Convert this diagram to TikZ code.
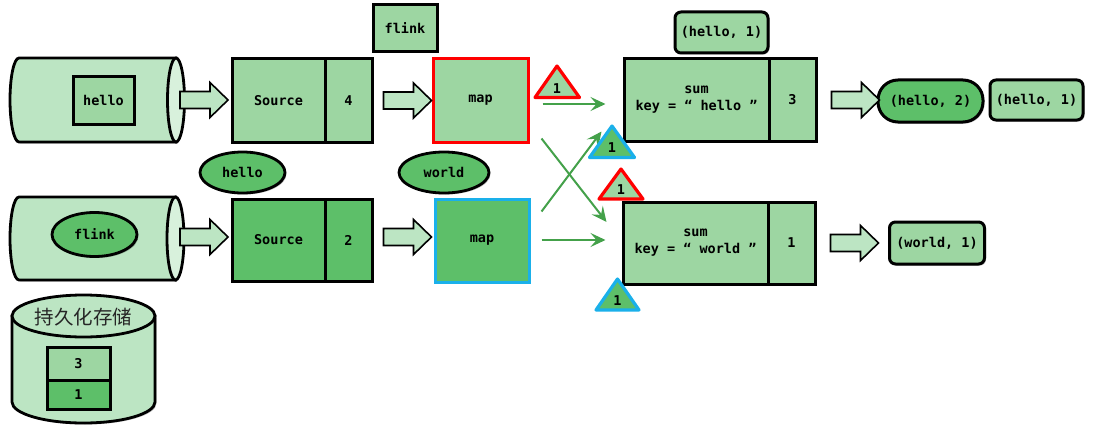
\documentclass[tikz,border=0pt]{standalone}
\usepackage{fontspec}
\setmonofont{DejaVu Sans Mono}
\newfontfamily\cjkfont{Noto Sans CJK SC}
\usetikzlibrary{shapes.geometric,shadows,calc,arrows.meta}
\definecolor{cylfill}{HTML}{BCE5C3}
\definecolor{cylface}{HTML}{D8F1DC}
\definecolor{midg}{HTML}{9DD6A2}
\definecolor{darkg}{HTML}{5DBF69}
\definecolor{bluebd}{HTML}{1AB0EA}
\definecolor{arrg}{HTML}{44A14A}
\definecolor{cjkgray}{HTML}{262626}
\tikzset{
  shd/.style={drop shadow={shadow xshift=1.5pt,shadow yshift=-1.5pt,opacity=0.25,fill=black}},
  txt/.style={font=\ttfamily\bfseries\fontsize{13.5}{15}\selectfont, text=black},
  box/.style={txt, rectangle, draw=black, line width=3pt, fill=midg, inner sep=0pt, shd},
  rbox/.style={box, rounded corners=6pt},
  ebox/.style={txt, ellipse, draw=black, line width=2.8pt, fill=darkg, inner sep=0pt, shd},
  barrow/.style={draw=black, line width=1.6pt, fill=cylfill, line join=miter},
  cylbody/.style={draw=black, line width=2.8pt, fill=cylfill, shd},
  tri/.style={line width=3.2pt, line join=round},
  garrow/.style={draw=arrg, line width=2pt, -{Stealth[length=15pt,width=14pt,inset=6pt]}},
}
\newcommand\blockarr[1]{\draw[barrow] (#1) ++(0,-8.5) -- ++(30,0) -- ++(0,-9) -- ++(18,17.5) -- ++(-18,17.5) -- ++(0,-9) -- ++(-30,0) -- cycle;}
\begin{document}
\begin{tikzpicture}[x=1pt,y=-1pt]
\useasboundingbox[fill=white] (0,0) rectangle (1096,428);

% ---------- top input cylinder
\path[cylbody] (176,58) -- (19,58) arc[start angle=270,end angle=90,x radius=9,y radius=42] -- (176,142) -- cycle;
\draw[line width=2.8pt, fill=cylface] (176,100) ellipse [x radius=8.5,y radius=42];
\coordinate (cyl1) at (184,100);
\node[box, minimum width=61pt, minimum height=47pt] (in1) at (103.5,100.5) {hello};

% ---------- bottom input cylinder
\path[cylbody] (175.5,197) -- (19,197) arc[start angle=270,end angle=90,x radius=9,y radius=41.5] -- (175.5,280) -- cycle;
\draw[line width=2.8pt, fill=cylface] (175.5,238.5) ellipse [x radius=8.5,y radius=41.5];
\coordinate (cyl2) at (184,237);
\node[ebox, minimum width=85pt, minimum height=44pt] (in2) at (94.5,234.5) {flink};

% ---------- storage cylinder
\path[cylbody] (12,316) -- (12,402) arc[start angle=180,end angle=0,x radius=71.5,y radius=21] -- (155,316) -- cycle;
\draw[line width=2.8pt, fill=cylfill] (83.5,316) ellipse [x radius=71.5,y radius=21];
\node[font=\cjkfont\fontsize{19.5}{21}\selectfont, text=cjkgray] (store) at (83.5,317) {持久化存储};
\node[box, minimum width=63pt, minimum height=33pt, fill=midg] (st3) at (78.5,363.5) {3};
\node[box, minimum width=63pt, minimum height=29pt, fill=darkg] (st1) at (78.5,394.5) {1};

% ---------- sources
\node[box, minimum width=93pt, minimum height=83pt] (src1) at (278.5,100.5) {Source};
\node[box, minimum width=47pt, minimum height=83pt] (src1n) at (348.5,100.5) {4};
\node[box, minimum width=93pt, minimum height=82pt, fill=darkg] (src2) at (278.5,240) {Source};
\node[box, minimum width=47pt, minimum height=82pt, fill=darkg] (src2n) at (348.5,240) {2};

% ---------- maps
\node[box, draw=red, minimum width=95pt, minimum height=83pt] (map1) at (480.5,100.5) {map};
\node[box, draw=bluebd, fill=darkg, minimum width=94pt, minimum height=83pt] (map2) at (482,240.5) {map};

% ---------- labels above
\node[box, minimum width=64pt, minimum height=47pt] (flk) at (405,28.5) {flink};
\node[ebox, minimum width=85pt, minimum height=41pt] (ehello) at (242.5,172.5) {hello};
\node[ebox, minimum width=90pt, minimum height=41pt] (eworld) at (444,172.5) {world};

% ---------- sums
\node[box, minimum width=145pt, minimum height=82pt, align=center] (sum1) at (696.5,100) {sum\\[2pt]key = “ hello ”};
\node[box, minimum width=47pt, minimum height=82pt] (sum1n) at (792.5,100) {3};
\node[box, minimum width=145pt, minimum height=82pt, align=center] (sum2) at (695.5,243) {sum\\[2pt]key = “ world ”};
\node[box, minimum width=47pt, minimum height=82pt] (sum2n) at (791.5,243) {1};
\node[rbox, minimum width=93pt, minimum height=41pt] (st) at (721.5,32.5) {(hello, 1)};

% ---------- outputs
\node[box, fill=darkg, rounded corners=20pt, minimum width=105pt, minimum height=42pt] (out1) at (930.5,101) {(hello, 2)};
\node[rbox, minimum width=93pt, minimum height=40pt] (out1b) at (1036.5,100) {(hello, 1)};
\node[rbox, minimum width=95pt, minimum height=42pt] (out2) at (937,243) {(world, 1)};

% ---------- block arrows
\blockarr{$(cyl1)+(-4,0)$}
\blockarr{$(src1n.east)+(10,0)$}
\blockarr{$(cyl2)+(-4,0)$}
\blockarr{$(src2n.east)+(10,-3)$}
\blockarr{$(sum1n.east)+(14,0)$}
\blockarr{$(sum2n.east)+(14,0)$}

% ---------- green connectors
\draw[garrow] ($(map1.east)+(13,3.5)$) -- ($(sum1.west)+(-17,4)$);
\draw[garrow] ($(map1.south east)+(12,-5)$) -- ($(sum2.west)+(-15,-21)$);
\draw[garrow] ($(map2.north east)+(11,14)$) -- ($(sum1.south west)+(-21,-11)$);
\draw[garrow] ($(map2.east)+(11,-0.5)$) -- ($(sum2.west)+(-16,-3)$);

% ---------- barrier triangles
\draw[tri, draw=red, fill=midg] (557,66) -- (579.5,97.5) -- (535,97.5) -- cycle;
\node[txt] (b1) at (557,89) {1};
\draw[tri, draw=bluebd, fill=darkg] (612,126) -- (634.5,157.5) -- (589.5,157.5) -- cycle;
\node[txt] (b2) at (612,148) {1};
\draw[tri, draw=red, fill=midg] (621,169) -- (643,199) -- (599,199) -- cycle;
\node[txt] (b3) at (621,190) {1};
\draw[tri, draw=bluebd, fill=darkg] (617.5,279) -- (639,310) -- (596,310) -- cycle;
\node[txt] (b4) at (617.5,301) {1};
\end{tikzpicture}
\end{document}
